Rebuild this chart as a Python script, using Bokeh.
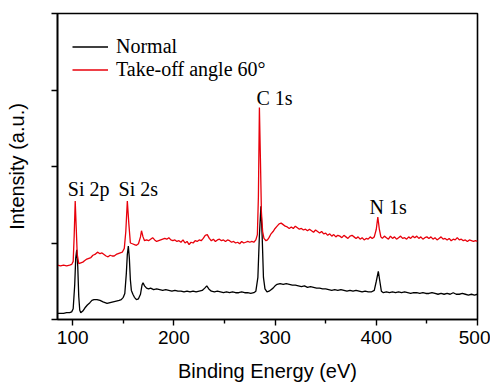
from bokeh.plotting import figure
from bokeh.models import FixedTicker, Range1d, Legend, LegendItem, ColumnDataSource
from bokeh.core.properties import value
from bokeh.embed import file_html
from bokeh.resources import INLINE

# ---- data ----
normal_e = [85, 88, 91, 94, 97, 99, 100.5, 102, 103, 104, 105, 106, 107, 108, 110, 112, 114.5, 117, 119, 121,
            124, 127, 130, 132, 134, 137, 140, 143, 146, 148, 150, 151.5, 153, 154, 155, 156, 157, 158, 159.5, 161,
            163, 165, 167, 168.5, 169.5, 171, 173, 175, 177, 180, 183, 186, 189, 192, 195, 198, 201, 204, 207, 210,
            213, 216, 219, 222, 225, 228, 230.5, 232.5, 234.5, 237, 240, 243, 246, 249, 252, 255, 258, 261, 264, 267,
            270, 273, 276, 279, 281, 283, 284.5, 286, 287.2, 288.5, 290, 292, 294, 296, 298, 300, 302, 305, 308, 311,
            314, 317, 320, 323, 326, 329, 332, 335, 338, 341, 344, 347, 350, 353, 356, 359, 362, 365, 368, 371,
            374, 377, 380, 383, 386, 389, 392, 395, 398, 400, 402, 403.5, 405, 407, 410, 413, 416, 419, 422, 425,
            428, 431, 434, 437, 440, 443, 446, 449, 452, 455, 458, 461, 464, 467, 470, 473, 476, 479, 482, 485,
            488, 491, 494, 497, 500]
normal_i = [0.08, 0.08, 0.08, 0.09, 0.09, 0.10, 0.14, 0.45, 0.80, 0.91, 0.70, 0.30, 0.12, 0.09, 0.11, 0.15, 0.19, 0.22, 0.25, 0.26,
            0.26, 0.25, 0.23, 0.22, 0.21, 0.22, 0.23, 0.24, 0.25, 0.26, 0.29, 0.34, 0.60, 0.85, 0.96, 0.80, 0.52, 0.38, 0.33, 0.29,
            0.26, 0.27, 0.33, 0.45, 0.48, 0.44, 0.41, 0.40, 0.41, 0.39, 0.40, 0.39, 0.38, 0.39, 0.38, 0.37, 0.38, 0.37, 0.37, 0.36,
            0.37, 0.36, 0.37, 0.36, 0.37, 0.38, 0.41, 0.44, 0.40, 0.37, 0.36, 0.37, 0.36, 0.35, 0.36, 0.35, 0.36, 0.35, 0.35, 0.36,
            0.35, 0.35, 0.34, 0.35, 0.37, 0.55, 1.10, 1.48, 1.10, 0.55, 0.40, 0.36, 0.37, 0.39, 0.41, 0.44, 0.46, 0.47, 0.46, 0.47,
            0.46, 0.45, 0.45, 0.44, 0.43, 0.44, 0.42, 0.43, 0.42, 0.41, 0.41, 0.40, 0.40, 0.39, 0.38, 0.39, 0.38, 0.39, 0.38, 0.37,
            0.38, 0.37, 0.38, 0.37, 0.36, 0.37, 0.36, 0.36, 0.38, 0.50, 0.63, 0.50, 0.37, 0.35, 0.36, 0.35, 0.36, 0.35, 0.36, 0.35,
            0.36, 0.35, 0.34, 0.35, 0.35, 0.34, 0.35, 0.34, 0.34, 0.35, 0.34, 0.33, 0.34, 0.33, 0.34, 0.33, 0.35, 0.33, 0.33, 0.34,
            0.33, 0.32, 0.33, 0.32, 0.33]

angle_e = [85, 88, 91, 94, 97, 99, 100.5, 101.5, 102.5, 103.5, 104.5, 106, 108, 110, 112, 114, 116, 118, 120, 122,
           124.5, 127, 129, 131, 133, 135, 137, 139, 141, 143, 145, 147, 149, 151, 152.5, 154, 155.5, 157, 159, 161,
           163, 165, 167, 168, 169.5, 171, 173, 175, 177, 179, 181, 183, 185, 187, 189, 191, 193, 195, 197, 199,
           201, 203, 205, 207, 209, 211, 213, 215, 217, 219, 221, 223, 225, 227, 229, 231, 233, 235, 237, 239,
           241, 243, 245, 247, 249, 251, 253, 255, 257, 259, 261, 263, 265, 267, 269, 271, 273, 275, 277, 279,
           281, 282.5, 283.5, 284.5, 285.5, 286.5, 287.7, 289, 291, 292.5, 294, 296, 298, 300, 302, 304, 306, 308, 310, 312,
           314, 316, 318, 320, 322, 324, 326, 328, 330, 332, 334, 336, 338, 340, 342, 344, 346, 348, 350, 352,
           354, 356, 358, 360, 362, 364, 366, 368, 370, 372, 374, 376, 378, 380, 382, 384, 386, 388, 390, 392,
           394, 396, 398, 400, 401.5, 403, 404.5, 406, 408, 410, 412, 414, 416, 418, 420, 422, 424, 426, 428, 430,
           432, 434, 436, 438, 440, 442, 444, 446, 448, 450, 452, 454, 456, 458, 460, 462, 464, 466, 468, 470,
           472, 474, 476, 478, 480, 482, 484, 486, 488, 490, 492, 494, 496, 498, 500]
angle_i = [0.71, 0.70, 0.71, 0.70, 0.71, 0.72, 0.76, 1.10, 1.55, 1.20, 0.85, 0.73, 0.74, 0.75, 0.77, 0.79, 0.80, 0.81, 0.84, 0.85,
           0.88, 0.86, 0.87, 0.85, 0.83, 0.82, 0.84, 0.83, 0.83, 0.85, 0.86, 0.87, 0.88, 0.93, 1.15, 1.55, 1.25, 1.00, 0.99, 0.98,
           0.97, 0.99, 1.08, 1.16, 1.08, 1.03, 1.04, 1.03, 1.05, 1.07, 1.04, 1.02, 1.03, 1.04, 1.05, 1.06, 1.05, 1.07, 1.04, 1.03,
           1.04, 1.02, 1.03, 1.01, 1.04, 1.00, 1.02, 0.98, 1.01, 1.00, 1.03, 1.02, 1.04, 1.03, 1.06, 1.10, 1.11, 1.06, 1.03, 1.05,
           1.02, 1.04, 1.05, 1.03, 1.04, 1.02, 1.04, 1.03, 1.01, 1.02, 1.00, 1.01, 0.99, 1.02, 1.00, 1.01, 1.02, 1.01, 1.02, 1.01,
           1.04, 1.11, 1.60, 2.77, 2.10, 1.40, 1.15, 1.06, 1.03, 1.04, 1.07, 1.12, 1.15, 1.19, 1.22, 1.25, 1.26, 1.24, 1.22, 1.21,
           1.19, 1.21, 1.19, 1.22, 1.20, 1.18, 1.19, 1.17, 1.18, 1.16, 1.18, 1.16, 1.14, 1.17, 1.15, 1.13, 1.15, 1.12, 1.13, 1.10,
           1.12, 1.09, 1.11, 1.08, 1.10, 1.09, 1.07, 1.10, 1.08, 1.06, 1.09, 1.10, 1.08, 1.06, 1.08, 1.05, 1.07, 1.04, 1.06, 1.05,
           1.08, 1.06, 1.08, 1.18, 1.34, 1.18, 1.08, 1.06, 1.09, 1.07, 1.05, 1.09, 1.06, 1.08, 1.05, 1.07, 1.09, 1.06, 1.07, 1.05,
           1.08, 1.06, 1.09, 1.07, 1.09, 1.06, 1.08, 1.05, 1.07, 1.08, 1.06, 1.08, 1.05, 1.07, 1.04, 1.06, 1.08, 1.05, 1.06, 1.04,
           1.06, 1.03, 1.05, 1.04, 1.07, 1.04, 1.05, 1.03, 1.04, 1.02, 1.04, 1.03, 1.02, 1.03, 1.02]

peak_labels = ["Si 2p", "Si 2s", "C 1s", "N 1s"]
peak_label_x = [95.2, 145.3, 281.6, 393.3]
peak_label_y = [1.70, 1.70, 2.89, 1.47]

x_ticks = [100, 200, 300, 400, 500]
x_minor = [150, 250, 350, 450]
y_ticks = [0, 1, 2, 3, 4]

series_names = ["Normal", "Take-off angle 60\u00b0"]
series_colors = ["#000000", "#e8000b"]

# ---- figure ----
p = figure(width=490, height=384, output_backend="svg", toolbar_location=None,
           x_range=Range1d(85, 500), y_range=Range1d(0, 4),
           min_border_left=57, min_border_right=13, min_border_top=13, min_border_bottom=61)
p.grid.visible = False
p.background_fill_color = "white"
p.outline_line_color = "black"
p.outline_line_width = 1.6

r1 = p.line(normal_e, normal_i, line_color=series_colors[0], line_width=1.3)
r2 = p.line(angle_e, angle_i, line_color=series_colors[1], line_width=1.3)

src = ColumnDataSource(dict(x=peak_label_x, y=peak_label_y, t=peak_labels))
p.text(x="x", y="y", text="t", source=src, text_font=value("Liberation Serif"),
       text_font_size="20px", text_color="black", text_align="left", text_baseline="alphabetic")

# x axis
xa = p.xaxis[0]
xa.ticker = FixedTicker(ticks=x_ticks, minor_ticks=x_minor)
xa.axis_label = "Binding Energy (eV)"
xa.axis_label_text_font = "Liberation Sans"
xa.axis_label_text_font_size = "20px"
xa.axis_label_text_font_style = "normal"
xa.axis_label_text_color = "black"
xa.axis_label_standoff = 13
xa.major_label_text_font = "Liberation Sans"
xa.major_label_text_font_size = "19px"
xa.major_label_text_color = "black"
xa.major_label_standoff = 5
xa.axis_line_width = 1.6
xa.major_tick_in = 0
xa.major_tick_out = 6
xa.minor_tick_in = 0
xa.minor_tick_out = 4
xa.major_tick_line_width = 1.4
xa.minor_tick_line_width = 1.4

# y axis
ya = p.yaxis[0]
ya.ticker = FixedTicker(ticks=y_ticks, minor_ticks=[])
ya.major_label_overrides = {t: "" for t in y_ticks}
ya.major_label_text_font_size = "0px"
ya.major_label_standoff = 0
ya.axis_label = "Intensity (a.u.)"
ya.axis_label_text_font = "Liberation Sans"
ya.axis_label_text_font_size = "20px"
ya.axis_label_text_font_style = "normal"
ya.axis_label_text_color = "black"
ya.axis_label_standoff = 24
ya.axis_line_width = 1.6
ya.major_tick_in = 0
ya.major_tick_out = 6
ya.minor_tick_in = 0
ya.minor_tick_out = 0
ya.major_tick_line_width = 1.4

legend = Legend(items=[LegendItem(label=series_names[0], renderers=[r1]),
                       LegendItem(label=series_names[1], renderers=[r2])],
                location=(15, 238), margin=0, padding=0, spacing=-2,
                glyph_width=36, glyph_height=21, label_height=21, label_standoff=8,
                label_text_font="Liberation Serif", label_text_font_size="20px",
                label_text_color="black", border_line_color=None, background_fill_alpha=0)
p.add_layout(legend, "center")

open("out.html", "w").write(file_html(p, INLINE))
